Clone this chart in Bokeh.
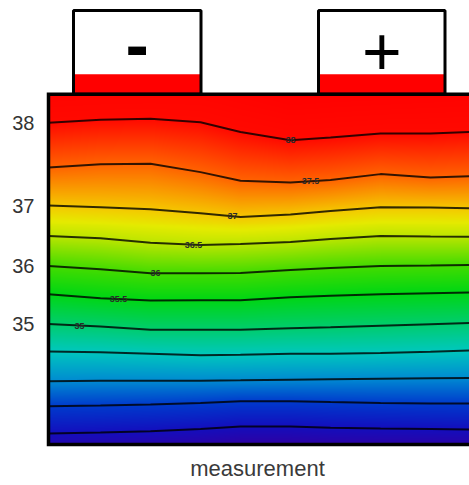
import numpy as np
from bokeh.plotting import figure
from bokeh.models import FixedTicker, Range1d
from bokeh.embed import file_html
from bokeh.resources import INLINE
from bokeh.core.properties import value

# ---------------- data ----------------
levels = [38.0, 37.5, 37.0, 36.5, 36.0, 35.5, 35.0, 34.5, 34.0, 33.5, 33.0]
sample_x = [0.0, 5.2, 10.2, 15.2, 19.2, 24.2, 28.2, 33.2, 38.2, 42.1]
contour_38_0 = [32.25, 32.55, 32.65, 32.30, 31.33, 30.50, 30.77, 31.17, 31.17, 31.33]
contour_37_5 = [27.77, 28.10, 28.15, 27.30, 26.43, 26.25, 26.50, 27.10, 26.77, 26.90]
contour_37_0 = [23.95, 23.77, 23.57, 23.17, 22.80, 23.05, 23.40, 23.77, 23.75, 23.67]
contour_36_5 = [20.90, 20.67, 20.23, 20.00, 20.10, 20.30, 20.60, 20.90, 20.85, 20.83]
contour_36_0 = [17.90, 17.57, 17.17, 17.17, 17.20, 17.50, 17.70, 17.90, 17.95, 18.00]
contour_35_5 = [15.07, 14.67, 14.43, 14.45, 14.45, 14.75, 14.90, 15.05, 15.15, 15.23]
contour_35_0 = [12.07, 11.83, 11.50, 11.50, 11.50, 11.65, 11.75, 11.90, 12.05, 12.17]
contour_34_5 = [9.33, 9.25, 9.10, 8.95, 9.00, 9.10, 9.10, 9.17, 9.30, 9.43]
contour_34_0 = [6.33, 6.40, 6.40, 6.40, 6.43, 6.50, 6.55, 6.60, 6.65, 6.67]
contour_33_5 = [3.83, 3.90, 4.00, 4.15, 4.33, 4.33, 4.25, 4.17, 4.12, 4.10]
contour_33_0 = [1.10, 1.20, 1.33, 1.55, 1.80, 1.80, 1.67, 1.60, 1.55, 1.50]
contour_y = [contour_38_0, contour_37_5, contour_37_0, contour_36_5, contour_36_0,
             contour_35_5, contour_35_0, contour_34_5, contour_34_0, contour_33_5,
             contour_33_0]

tick_levels = [38.0, 37.0, 36.0, 35.0]
tick_text = ["38", "37", "36", "35"]

label_levels = [38.0, 37.5, 37.0, 36.5, 36.0, 35.5, 35.0]
label_x = [24.2, 26.2, 18.4, 14.5, 10.7, 7.0, 3.1]
label_text = ["38", "37.5", "37", "36.5", "36", "35.5", "35"]

field_width = 42.1
field_height = 35.1

terminal_labels = ["-", "+"]
terminal_left = [2.5, 27.0]
terminal_right = [15.25, 39.65]
terminal_top = 43.5
terminal_fill_top = 37.1
terminal_text_y = [40.1, 39.4]

color_temps = [32.6, 33.0, 33.5, 34.0, 34.5, 35.0, 35.5, 36.0, 36.5, 36.75, 37.0, 37.5, 38.0, 38.6]
color_r = [50, 20, 0, 0, 0, 0, 0, 70, 190, 230, 245, 255, 255, 255]
color_g = [0, 15, 60, 140, 200, 205, 215, 220, 230, 235, 200, 100, 10, 0]
color_b = [160, 190, 205, 210, 190, 110, 20, 0, 0, 0, 0, 0, 0, 0]

# ---------------- field rendering ----------------
nx, ny = 421, 351
xs = (np.arange(nx) + 0.5) * field_width / nx
ys = (np.arange(ny) + 0.5) * field_height / ny
cy = np.array([np.interp(xs, sample_x, c) for c in contour_y])  # (L, nx)
lev = np.array(levels)
T = np.zeros((ny, nx))
for j in range(nx):
    yp = cy[::-1, j]
    fp = lev[::-1]
    top_slope = (lev[0] - lev[1]) / (cy[0, j] - cy[1, j])
    bot_slope = (lev[-2] - lev[-1]) / (cy[-2, j] - cy[-1, j])
    t_top = lev[0] + (field_height - cy[0, j]) * top_slope
    t_bot = lev[-1] - cy[-1, j] * bot_slope
    yp_ext = np.concatenate([[0.0], yp, [field_height]])
    fp_ext = np.concatenate([[t_bot], fp, [t_top]])
    T[:, j] = np.interp(ys, yp_ext, fp_ext)

img = np.empty((ny, nx), dtype=np.uint32)
view = img.view(dtype=np.uint8).reshape((ny, nx, 4))
view[..., 0] = np.interp(T, color_temps, color_r).astype(np.uint8)
view[..., 1] = np.interp(T, color_temps, color_g).astype(np.uint8)
view[..., 2] = np.interp(T, color_temps, color_b).astype(np.uint8)
view[..., 3] = 255

# ---------------- figure ----------------
p = figure(width=469, height=483, output_backend="svg", toolbar_location=None,
           x_range=Range1d(-0.3, field_width), y_range=Range1d(-0.3, 43.7),
           min_border_left=45, min_border_right=0, min_border_top=8,
           min_border_bottom=36)
p.outline_line_color = None
p.grid.visible = False
p.background_fill_color = "white"
p.border_fill_color = "white"

p.image_rgba(image=[img], x=0, y=0, dw=field_width, dh=field_height)

p.multi_line(xs=[sample_x] * len(levels), ys=contour_y, line_color="black",
             line_alpha=0.8, line_width=2.0)

label_y = [float(np.interp(lx, sample_x, contour_y[levels.index(lv)]))
           for lx, lv in zip(label_x, label_levels)]
p.text(x=label_x, y=label_y, text=label_text, text_font=value("Liberation Sans"),
       text_font_size="9px", text_font_style="bold", text_color="#2a2a2a",
       text_align="center", text_baseline="middle")

# terminals
n_t = len(terminal_labels)
p.quad(left=terminal_left, right=terminal_right, bottom=[field_height] * n_t,
       top=[terminal_top] * n_t, fill_color="white", line_color=None)
p.quad(left=terminal_left, right=terminal_right, bottom=[field_height] * n_t,
       top=[terminal_fill_top] * n_t, fill_color="#ff0000", line_color=None)
p.quad(left=terminal_left, right=terminal_right, bottom=[field_height] * n_t,
       top=[terminal_top] * n_t, fill_color=None, line_color="black", line_width=3)
term_x = [(a + b) / 2 for a, b in zip(terminal_left, terminal_right)]
p.text(x=term_x[:1], y=terminal_text_y[:1], text=terminal_labels[:1],
       text_font=value("Liberation Sans"), text_font_size="70px",
       text_font_style="bold", text_color="black", text_align="center",
       text_baseline="middle")
p.text(x=term_x[1:], y=terminal_text_y[1:], text=terminal_labels[1:],
       text_font=value("Liberation Sans"), text_font_size="68px",
       text_color="black", text_align="center", text_baseline="middle")

# frame border (left, top, bottom)
p.line(x=[field_width, 0, 0, field_width], y=[0, 0, field_height, field_height],
       line_color="black", line_width=3.5, line_join="miter")

# axes
tick_pos = [contour_y[levels.index(lv)][0] for lv in tick_levels]
p.yaxis.ticker = FixedTicker(ticks=tick_pos)
p.yaxis.major_label_overrides = {t: s for t, s in zip(tick_pos, tick_text)}
p.yaxis.axis_line_color = None
p.yaxis.major_tick_line_color = None
p.yaxis.minor_tick_line_color = None
p.yaxis.major_tick_out = 0
p.yaxis.major_tick_in = 0
p.yaxis.major_label_standoff = 11
p.yaxis.major_label_text_font = "Liberation Sans"
p.yaxis.major_label_text_font_size = "20px"
p.yaxis.major_label_text_color = "#333333"

p.xaxis.ticker = FixedTicker(ticks=[])
p.xaxis.axis_line_color = None
p.xaxis.major_tick_line_color = None
p.xaxis.minor_tick_line_color = None
p.xaxis.major_tick_out = 0
p.xaxis.major_label_standoff = 0
p.xaxis.axis_label = "measurement"
p.xaxis.axis_label_standoff = 8
p.xaxis.axis_label_text_font = "Liberation Sans"
p.xaxis.axis_label_text_font_size = "22px"
p.xaxis.axis_label_text_font_style = "normal"
p.xaxis.axis_label_text_color = "#3a3a3a"

open("out.html", "w").write(file_html(p, INLINE))
